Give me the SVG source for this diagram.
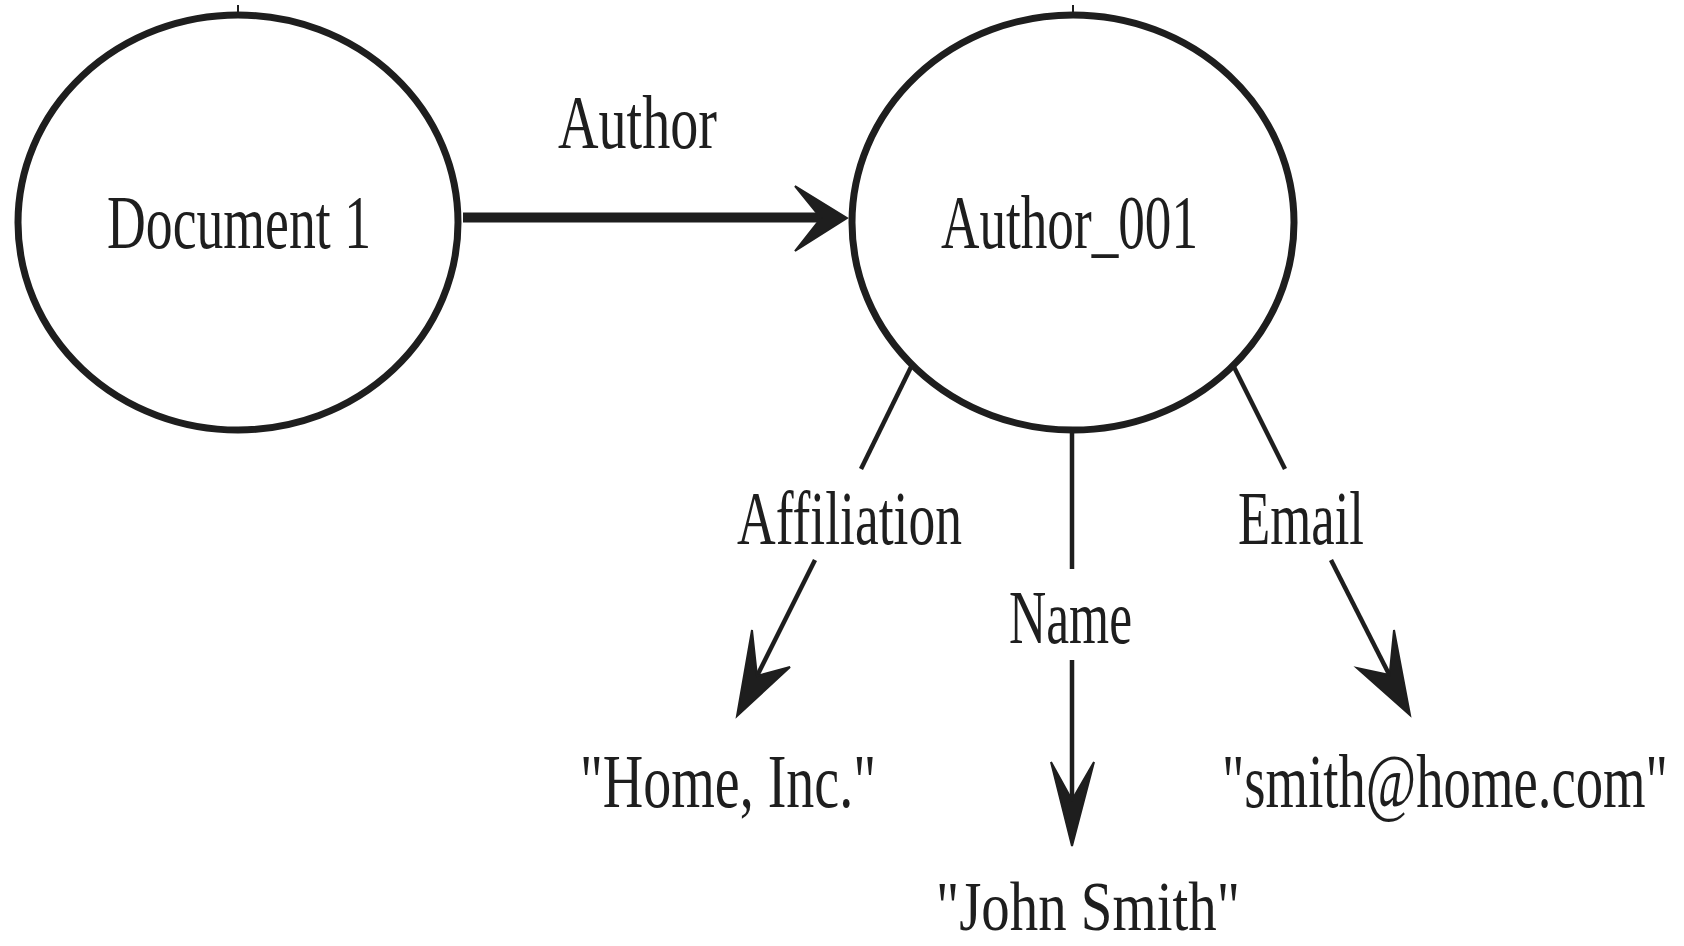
<svg xmlns="http://www.w3.org/2000/svg" width="1684" height="946" viewBox="0 0 1684 946">
  <style>
    .ring { fill: none; stroke: #1e1e1e; stroke-width: 7; }
    .tick { stroke: #1e1e1e; stroke-width: 2; }
    .lbl { font-family: "Liberation Serif", "Times New Roman", serif; font-size: 77px; fill: #1e1e1e; }
    .edge { fill: none; stroke: #1e1e1e; stroke-width: 4.5; }
    .shaft { fill: none; stroke: #1e1e1e; stroke-width: 10; }
    .head { fill: #1e1e1e; stroke: #1e1e1e; stroke-width: 2; stroke-linejoin: miter; }
  </style>

  <rect width="1684" height="946" fill="#ffffff"/>

  <!-- resource nodes -->
  <g id="document1">
    <ellipse class="ring" cx="238" cy="222.5" rx="220" ry="207.5"/>
    <line class="tick" x1="238" y1="5" x2="238" y2="13"/>
    <text class="lbl" x="107" y="248" textLength="264" lengthAdjust="spacingAndGlyphs">Document 1</text>
  </g>

  <g id="author001">
    <ellipse class="ring" cx="1073" cy="222.5" rx="221" ry="207.5"/>
    <line class="tick" x1="1073" y1="5" x2="1073" y2="13"/>
    <text class="lbl" x="941" y="248" textLength="257" lengthAdjust="spacingAndGlyphs">Author_001</text>
  </g>

  <!-- literal values -->
  <g id="lit-home">
    <text class="lbl" x="580" y="807" textLength="296" lengthAdjust="spacingAndGlyphs">"Home, Inc."</text>
  </g>
  <g id="lit-john">
    <text class="lbl" x="936" y="930" style="font-size:70px" textLength="304" lengthAdjust="spacingAndGlyphs">"John Smith"</text>
  </g>
  <g id="lit-email">
    <text class="lbl" transform="translate(1222,807) scale(0.71,1)" x="0" y="0" textLength="628" lengthAdjust="spacingAndGlyphs">"smith@home.com"</text>
  </g>

  <!-- properties -->
  <g id="connectors">
    <!-- Author -->
    <line class="shaft" x1="463" y1="217.5" x2="830" y2="217.5"/>
    <path class="head" d="M847,218 L795,186 L821,218 L795,251 Z"/>
    <text class="lbl" x="558" y="148" textLength="159" lengthAdjust="spacingAndGlyphs">Author</text>

    <!-- Affiliation -->
    <line class="edge" x1="912" y1="365" x2="861" y2="469"/>
    <line class="edge" x1="815" y1="560" x2="752" y2="686"/>
    <path class="head" d="M737,716 L752,630 L757,676 L790,667 Z"/>
    <text class="lbl" x="737" y="544" textLength="225" lengthAdjust="spacingAndGlyphs">Affiliation</text>

    <!-- Name -->
    <line class="edge" x1="1072" y1="433" x2="1072" y2="569"/>
    <line class="edge" x1="1072" y1="660" x2="1072" y2="810"/>
    <path class="head" d="M1072,846 L1051,762 L1072,800 L1094,762 Z"/>
    <text class="lbl" x="1009" y="643" textLength="123" lengthAdjust="spacingAndGlyphs">Name</text>

    <!-- Email -->
    <line class="edge" x1="1233" y1="365" x2="1285" y2="469"/>
    <line class="edge" x1="1331" y1="560" x2="1394" y2="684"/>
    <path class="head" d="M1410,715 L1394,630 L1389.6,675 L1357,668 Z"/>
    <text class="lbl" x="1238" y="544" textLength="126" lengthAdjust="spacingAndGlyphs">Email</text>
  </g>
</svg>
